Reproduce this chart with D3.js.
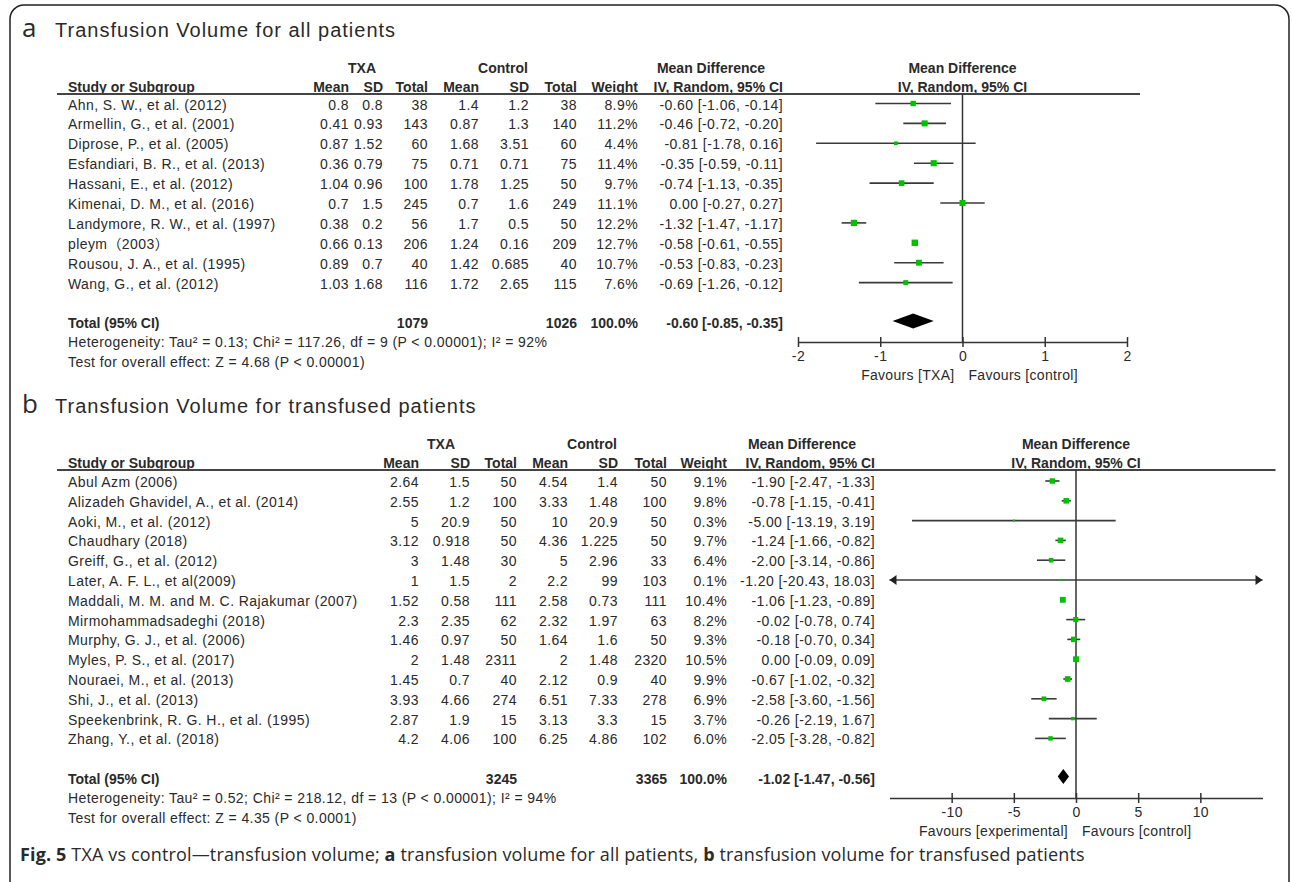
<!DOCTYPE html>
<html><head><meta charset="utf-8">
<script src="https://cdn.jsdelivr.net/npm/d3@7"></script>
<style>
body{margin:0;background:#fff;}
svg text{font-family:"Liberation Sans",Arial,"Noto Sans CJK SC",sans-serif;fill:#2a2a2a;}
</style>
</head><body>
<svg id="chart" width="1292" height="882"></svg>
<script>
// ---------- Panel a data ----------
const studiesA = ["Ahn, S. W., et al. (2012)","Armellin, G., et al. (2001)","Diprose, P., et al. (2005)","Esfandiari, B. R., et al. (2013)","Hassani, E., et al. (2012)","Kimenai, D. M., et al. (2016)","Landymore, R. W., et al. (1997)","pleym\uFF082003\uFF09","Rousou, J. A., et al. (1995)","Wang, G., et al. (2012)"];
const txaMeanA = [0.8,0.41,0.87,0.36,1.04,0.7,0.38,0.66,0.89,1.03];
const txaSdA   = [0.8,0.93,1.52,0.79,0.96,1.5,0.2,0.13,0.7,1.68];
const txaNA    = [38,143,60,75,100,245,56,206,40,116];
const ctlMeanA = [1.4,0.87,1.68,0.71,1.78,0.7,1.7,1.24,1.42,1.72];
const ctlSdA   = [1.2,1.3,3.51,0.71,1.25,1.6,0.5,0.16,0.685,2.65];
const ctlNA    = [38,140,60,75,50,249,50,209,40,115];
const weightA  = [8.9,11.2,4.4,11.4,9.7,11.1,12.2,12.7,10.7,7.6];
const mdA      = [-0.60,-0.46,-0.81,-0.35,-0.74,0.00,-1.32,-0.58,-0.53,-0.69];
const loA      = [-1.06,-0.72,-1.78,-0.59,-1.13,-0.27,-1.47,-0.61,-0.83,-1.26];
const hiA      = [-0.14,-0.20,0.16,-0.11,-0.35,0.27,-1.17,-0.55,-0.23,-0.12];
const totalA   = {txaN:1079, ctlN:1026, weight:100.0, md:-0.60, lo:-0.85, hi:-0.35};
const hetA  = "Heterogeneity: Tau\u00B2 = 0.13; Chi\u00B2 = 117.26, df = 9 (P < 0.00001); I\u00B2 = 92%";
const testA = "Test for overall effect: Z = 4.68 (P < 0.00001)";
const ticksA = [-2,-1,0,1,2];
const domainA = [-2,2];

// ---------- Panel b data ----------
const studiesB = ["Abul Azm (2006)","Alizadeh Ghavidel, A., et al. (2014)","Aoki, M., et al. (2012)","Chaudhary (2018)","Greiff, G., et al. (2012)","Later, A. F. L., et al(2009)","Maddali, M. M. and M. C. Rajakumar (2007)","Mirmohammadsadeghi (2018)","Murphy, G. J., et al. (2006)","Myles, P. S., et al. (2017)","Nouraei, M., et al. (2013)","Shi, J., et al. (2013)","Speekenbrink, R. G. H., et al. (1995)","Zhang, Y., et al. (2018)"];
const txaMeanB = [2.64,2.55,5,3.12,3,1,1.52,2.3,1.46,2,1.45,3.93,2.87,4.2];
const txaSdB   = [1.5,1.2,20.9,0.918,1.48,1.5,0.58,2.35,0.97,1.48,0.7,4.66,1.9,4.06];
const txaNB    = [50,100,50,50,30,2,111,62,50,2311,40,274,15,100];
const ctlMeanB = [4.54,3.33,10,4.36,5,2.2,2.58,2.32,1.64,2,2.12,6.51,3.13,6.25];
const ctlSdB   = [1.4,1.48,20.9,1.225,2.96,99,0.73,1.97,1.6,1.48,0.9,7.33,3.3,4.86];
const ctlNB    = [50,100,50,50,33,103,111,63,50,2320,40,278,15,102];
const weightB  = [9.1,9.8,0.3,9.7,6.4,0.1,10.4,8.2,9.3,10.5,9.9,6.9,3.7,6.0];
const mdB      = [-1.90,-0.78,-5.00,-1.24,-2.00,-1.20,-1.06,-0.02,-0.18,0.00,-0.67,-2.58,-0.26,-2.05];
const loB      = [-2.47,-1.15,-13.19,-1.66,-3.14,-20.43,-1.23,-0.78,-0.70,-0.09,-1.02,-3.60,-2.19,-3.28];
const hiB      = [-1.33,-0.41,3.19,-0.82,-0.86,18.03,-0.89,0.74,0.34,0.09,-0.32,-1.56,1.67,-0.82];
const totalB   = {txaN:3245, ctlN:3365, weight:100.0, md:-1.02, lo:-1.47, hi:-0.56};
const hetB  = "Heterogeneity: Tau\u00B2 = 0.52; Chi\u00B2 = 218.12, df = 13 (P < 0.00001); I\u00B2 = 94%";
const testB = "Test for overall effect: Z = 4.35 (P < 0.0001)";
const ticksB = [-10,-5,0,5,10];
const domainB = [-15,15];

const colHeads = ["Mean","SD","Total","Mean","SD","Total","Weight","IV, Random, 95% CI"];
const groupHeads = ["TXA","Control","Mean Difference"];

const svg = d3.select("#chart");
const FS = 14;
const LS = "0.42px";

// outer frame
svg.append("rect").attr("x",10).attr("y",5).attr("width",1279).attr("height",905)
  .attr("rx",14).attr("fill","none").attr("stroke","#222").attr("stroke-width",1.5);

function ci(md,lo,hi){ return md.toFixed(2)+" ["+lo.toFixed(2)+", "+hi.toFixed(2)+"]"; }

function body(g, x, y, s, anchor, bold){
  return g.append("text").attr("x",x).attr("y",y).attr("text-anchor",anchor||"start")
    .style("font-size",FS+"px").style("letter-spacing",bold?"0px":LS)
    .style("font-weight",bold?"bold":"normal").text(s);
}

function drawPanel(P){
  const g = svg.append("g");
  // title
  const t = g.append("text").attr("x",22).attr("y",P.titleY);
  t.append("tspan").text(P.label).style("font-family","'Open Sans','Liberation Sans',sans-serif").style("font-size","26px");
  t.append("tspan").attr("x",55).text(P.title).style("font-size","20px").style("letter-spacing","1px");

  const rowY = i => P.y0 + P.step*i;
  const base = 6;
  const C = P.cols;

  // group headers
  const hb2 = P.lineY - 2, hb1 = hb2 - 19;
  P.grp.forEach((x,k)=>{ body(g, x, hb1, groupHeads[k], "middle", true); });
  body(g, 68, hb2, "Study or Subgroup", "start", true);
  colHeads.forEach((h,k)=>{ body(g, C[k], hb2, h, "end", true); });

  const x = d3.scaleLinear().domain(P.domain).range(P.range);
  const x0 = x(0);
  // forest header
  body(g, x0, hb1, "Mean Difference", "middle", true);
  body(g, x0, hb2, "IV, Random, 95% CI", "middle", true);

  // header rule
  g.append("line").attr("x1",57).attr("x2",P.range[1]+13).attr("y1",P.lineY).attr("y2",P.lineY)
    .attr("stroke","#444").attr("stroke-width",2);

  // study rows
  P.studies.forEach((s,i)=>{
    const y = rowY(i)+base;
    const vals = [P.tm[i],P.ts[i],P.tn[i],P.cm[i],P.cs[i],P.cn[i],P.w[i].toFixed(1)+"%",ci(P.md[i],P.lo[i],P.hi[i])];
    body(g, 68, y, s);
    vals.forEach((v,k)=>{ body(g, C[k], y, String(v), "end"); });
  });

  // total row
  const it = P.studies.length+1;
  const yt = rowY(it)+base;
  body(g, 68, yt, "Total (95% CI)", "start", true);
  [[2,P.total.txaN],[5,P.total.ctlN],[6,P.total.weight.toFixed(1)+"%"],[7,ci(P.total.md,P.total.lo,P.total.hi)]].forEach(([k,v])=>{
    body(g, C[k], yt, String(v), "end", true);
  });
  body(g, 68, rowY(it+1)+base-1, P.het);
  body(g, 68, rowY(it+2)+base-1, P.test);

  // zero line
  g.append("line").attr("x1",x0).attr("x2",x0).attr("y1",P.lineY).attr("y2",P.axisY)
    .attr("stroke","#333").attr("stroke-width",1.5);

  const [dmin,dmax] = P.domain;
  // CI lines and squares
  P.studies.forEach((s,i)=>{
    const y = rowY(i);
    const lo = Math.max(P.lo[i],dmin), hi = Math.min(P.hi[i],dmax);
    g.append("line").attr("x1",x(lo)).attr("x2",x(hi)).attr("y1",y).attr("y2",y)
      .attr("stroke","#3a3a3a").attr("stroke-width",1.6);
    if (P.lo[i] < dmin){
      const xa = x(dmin);
      g.append("path").attr("d",`M${xa},${y}L${xa+7},${y-5}L${xa+7},${y+5}Z`).attr("fill","#222");
    }
    if (P.hi[i] > dmax){
      const xa = x(dmax);
      g.append("path").attr("d",`M${xa},${y}L${xa-7},${y-5}L${xa-7},${y+5}Z`).attr("fill","#222");
    }
    const sz = Math.max(2, 1.8*Math.sqrt(P.w[i]));
    g.append("rect").attr("x",x(P.md[i])-sz/2).attr("y",y-sz/2).attr("width",sz).attr("height",sz)
      .attr("fill","#00c000");
  });

  // diamond
  const yd = rowY(it)-1.5;
  g.append("path").attr("d",`M${x(P.total.lo)},${yd}L${x(P.total.md)},${yd-7.5}L${x(P.total.hi)},${yd}L${x(P.total.md)},${yd+7.5}Z`)
    .attr("fill","#000");

  // axis
  const ax = d3.axisBottom(x).tickValues(P.ticks).tickSize(5).tickSizeOuter(0).tickFormat(d=>String(d));
  const ag = g.append("g").attr("transform",`translate(0,${P.axisY})`).call(ax);
  ag.select(".domain").attr("stroke","#333").attr("stroke-width",1.5);
  ag.selectAll(".tick line").attr("y1",-5).attr("y2",5).attr("stroke","#333").attr("stroke-width",1.5);
  ag.selectAll(".tick text").attr("y",9).style("font-size",FS+"px").style("letter-spacing",LS)
    .style("font-family","'Liberation Sans',Arial,sans-serif").attr("fill","#2a2a2a");

  g.append("text").attr("x",x0-8).attr("y",P.axisY+38).attr("text-anchor","end").style("font-size",FS+"px").style("letter-spacing","0.3px").text(P.favL);
  g.append("text").attr("x",x0+6).attr("y",P.axisY+38).style("font-size",FS+"px").style("letter-spacing","0.3px").text(P.favR);
}

drawPanel({label:"a", title:"Transfusion Volume for all patients", titleY:37,
  studies:studiesA, tm:txaMeanA, ts:txaSdA, tn:txaNA, cm:ctlMeanA, cs:ctlSdA, cn:ctlNA, w:weightA,
  md:mdA, lo:loA, hi:hiA, total:totalA, het:hetA, test:testA, ticks:ticksA, domain:domainA,
  favL:"Favours [TXA]", favR:"Favours [control]",
  cols:[349,383,428,479,529,577,638,783], grp:[362,503,711], range:[798,1127],
  lineY:94, y0:103.5, step:19.9, axisY:342});

drawPanel({label:"b", title:"Transfusion Volume for transfused patients", titleY:413,
  studies:studiesB, tm:txaMeanB, ts:txaSdB, tn:txaNB, cm:ctlMeanB, cs:ctlSdB, cn:ctlNB, w:weightB,
  md:mdB, lo:loB, hi:hiB, total:totalB, het:hetB, test:testB, ticks:ticksB, domain:domainB,
  favL:"Favours [experimental]", favR:"Favours [control]",
  cols:[419,470,517,568,618,667,727,875], grp:[441,592,802], range:[889.5,1262.5],
  lineY:470, y0:481, step:19.8, axisY:798});

// caption
const cap = svg.append("text").attr("x",20).attr("y",861)
  .style("font-family","'Open Sans','Noto Sans',sans-serif").style("font-size","18px").style("letter-spacing","0.15px");
[["Fig. 5",true],[" TXA vs control\u2014transfusion volume; ",false],["a",true],[" transfusion volume for all patients, ",false],["b",true],[" transfusion volume for transfused patients",false]]
  .forEach(([s,b])=>{ cap.append("tspan").style("font-weight",b?"bold":"normal").text(s); });
</script>
</body></html>
